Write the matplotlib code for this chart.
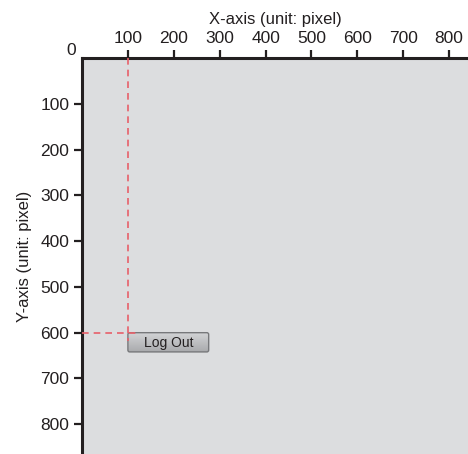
import numpy as np
import matplotlib.pyplot as plt
from matplotlib.colors import LinearSegmentedColormap
from matplotlib.patches import FancyBboxPatch

plt.rcParams['font.family'] = ['Liberation Sans', 'DejaVu Sans']

# axis ticks (pixel units)
x_ticks = [100, 200, 300, 400, 500, 600, 700, 800]
y_ticks = [100, 200, 300, 400, 500, 600, 700, 800]

# button position and size
button_x, button_y = 100, 600
button_w, button_h = 176, 42
button_label = "Log Out"

fig = plt.figure(figsize=(4.68, 4.54), dpi=100)
ax = fig.add_axes([0.1752, 0.0, 0.8248, 0.8722])
ax.set_facecolor('#dcdddf')

# spines: only left and top visible
for side in ['right', 'bottom']:
    ax.spines[side].set_visible(False)
for side in ['left', 'top']:
    ax.spines[side].set_linewidth(2.2)
    ax.spines[side].set_color('#231f20')

ax.xaxis.tick_top()
ax.xaxis.set_label_position('top')
ax.set_xticks(x_ticks)
ax.set_yticks(y_ticks)
ax.tick_params(axis='both', direction='out', length=6, width=1.6,
               color='#231f20', labelsize=12.5, labelcolor='#231f20', pad=3)
ax.set_xlabel("X-axis (unit: pixel)", fontsize=12, color='#231f20', labelpad=5)
ax.set_ylabel("Y-axis (unit: pixel)", fontsize=12, color='#231f20', labelpad=6)

# origin label
ax.annotate("0", xy=(0, 0), xytext=(-4, 0), textcoords='offset points',
            ha='right', va='bottom', fontsize=12.5, color='#231f20',
            annotation_clip=False)

# dashed guide lines
ax.plot([button_x, button_x], [0, button_y + 18], color='#e8606a',
        lw=1.2, ls=(0, (4, 3)), zorder=4)
ax.plot([0, button_x + 18], [button_y, button_y], color='#e8606a',
        lw=1.2, ls=(0, (4, 3)), zorder=4)

# button with a vertical gradient
box = FancyBboxPatch((button_x, button_y), button_w, button_h,
                     boxstyle="round,pad=0,rounding_size=4",
                     facecolor='none', edgecolor='#77787b', lw=1.0, zorder=3)
ax.add_patch(box)
grad = np.linspace(0, 1, 64).reshape(-1, 1)
btn_cmap = LinearSegmentedColormap.from_list('btn', ['#d4d5d7', '#a9aaad'])
img = ax.imshow(grad, cmap=btn_cmap,
                extent=(button_x, button_x + button_w, button_y + button_h, button_y),
                aspect='auto', zorder=2)
img.set_clip_path(box)
ax.text(button_x + button_w / 2, button_y + button_h / 2 + 2, button_label,
        ha='center', va='center', fontsize=10, color='#231f20', zorder=5)
ax.set_xlim(0, 841)
ax.set_ylim(865, 0)

fig.savefig('out.png', dpi=100)
